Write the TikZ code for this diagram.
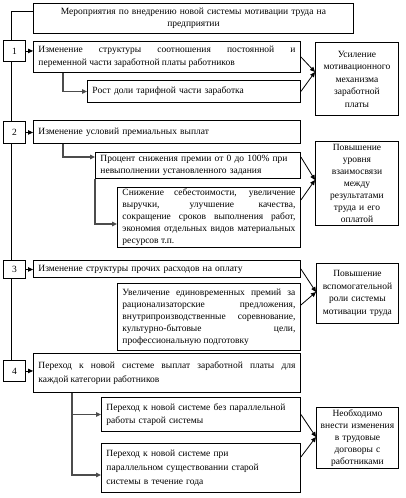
\documentclass[tikz,border=0pt]{standalone}
\usepackage{fontspec}
\setmainfont{Liberation Serif}
\usetikzlibrary{arrows.meta,calc}
\pgfdeclarelayer{background}
\pgfsetlayers{background,main}
\begin{document}
\begin{tikzpicture}[x=1pt,y=-1pt,
  every node/.style={font=\fontsize{9.5}{12.5}\selectfont},
  bx/.style={draw, fill=white, line width=0.9pt, anchor=north west, inner xsep=5pt, inner ysep=1pt},
  numbox/.style={draw, fill=white, line width=0.9pt, anchor=north west, minimum width=22pt, inner sep=0pt},
  rbox/.style={draw, fill=white, line width=0.9pt, anchor=north west, inner xsep=2pt, inner ysep=1pt, align=center},
  arr/.style={line width=0.8pt, -{Triangle[length=5pt,width=4.5pt]}},
  link/.style={line width=1.1pt, draw=black!70, -{Triangle[length=5pt,width=4.5pt]}},
  spine/.style={line width=0.9pt}
]
\useasboundingbox (0,0) rectangle (405,498);
% title and number boxes
\node[bx, text width=310pt, minimum height=30pt, align=center] (title) at (33,3)
  {Мероприятия по внедрению новой системы мотивации труда на\\предприятии};
\coordinate (lstart) at ($(title.north west)+(0,8)$);
\node[numbox, minimum height=21pt] (n1) at (3,40) {1};
\node[numbox, minimum height=22pt] (n2) at (3,121) {2};
\node[numbox, minimum height=18pt] (n3) at (3,260) {3};
\node[numbox, minimum height=21pt] (n4) at (3,360) {4};
% main boxes
\node[bx, text width=257pt, minimum height=31pt, align=justify] (a1) at (33,41)
  {Изменение структуры соотношения постоянной и\linebreak переменной части заработной платы работников};
\node[bx, text width=203pt, minimum height=22pt, align=left] (a1b) at (87,80)
  {Рост доли тарифной части заработка};
\node[bx, text width=257pt, minimum height=23pt, align=left] (a2) at (33,120)
  {Изменение условий премиальных выплат};
\node[bx, text width=195pt, minimum height=26pt, align=left] (a2b) at (95,152)
  {Процент снижения премии от 0 до 100\% при\\невыполнении установленного задания};
\node[bx, text width=173pt, minimum height=60pt, align=justify, font=\fontsize{9.5}{12}\selectfont] (a2c) at (117,187)
  {Снижение себестоимости, увеличение\linebreak выручки, улучшение качества,\linebreak сокращение сроков выполнения работ,\linebreak экономия отдельных видов материальных\linebreak ресурсов т.п.};
\node[bx, text width=257pt, minimum height=17pt, align=left] (a3) at (33,260)
  {Изменение структуры прочих расходов на оплату};
\node[bx, text width=173pt, minimum height=67pt, align=justify, font=\fontsize{9.5}{12}\selectfont] (a3b) at (117,283)
  {Увеличение единовременных премий за\linebreak рационализаторские предложения,\linebreak внутрипроизводственные соревнование,\linebreak культурно-бытовые цели,\linebreak профессиональную подготовку};
\node[bx, text width=257pt, minimum height=39pt, align=justify, font=\fontsize{9.5}{14}\selectfont] (a4) at (33,353)
  {Переход к новой системе выплат заработной платы для\linebreak каждой категории работников};
\node[bx, text width=189pt, minimum height=34pt, align=left, font=\fontsize{9.5}{13.5}\selectfont] (a4b) at (101,397)
  {Переход к новой системе без параллельной\\работы старой системы};
\node[bx, text width=189pt, minimum height=49pt, align=left, font=\fontsize{9.5}{14}\selectfont] (a4c) at (101,443)
  {Переход к новой системе при\\параллельном существовании старой\\системы в течение года};
% result boxes
\node[rbox, text width=79pt, minimum height=73pt] (r1) at (315,42)
  {Усиление\\мотивационного\\механизма\\заработной\\платы};
\node[rbox, text width=79pt, minimum height=84pt, font=\fontsize{9.5}{12}\selectfont] (r2) at (315,141)
  {Повышение\\уровня\\взаимосвязи\\между\\результатами\\труда и его\\оплатой};
\node[rbox, text width=78pt, minimum height=60pt] (r3) at (316,263)
  {Повышение\\вспомогательной\\роли системы\\мотивации труда};
\node[rbox, text width=78pt, minimum height=61pt, font=\fontsize{9.5}{12}\selectfont] (r4) at (316,407)
  {Необходимо\\внести изменения\\в трудовые\\договоры с\\работниками};
% left spine, behind the number boxes
\begin{pgfonlayer}{background}
\draw[spine] (lstart) -| ($(n4.north west)+(8,0)$);
\end{pgfonlayer}
% number arrows
\draw[arr] (n1.east) -- (n1.east -| a1.west);
\draw[arr] (n2.east) -- (n2.east -| a2.west);
\draw[arr] (n3.east) -- (n3.east -| a3.west);
\draw[arr] (n4.east) -- (n4.east -| a4.west);
% L connectors
\draw[link] ($(a1.south west)+(30,0)$) |- (a1b.west);
\draw[link] ($(a2.south west)+(30,0)$) |- ($(a2b.north west)+(0,5)$);
\draw[link] (a2b.south west) |- ($(a2c.north west)+(0,37)$);
\coordinate (a4s) at ($(a4.south west)+(39,0)$);
\draw[link] (a4s) |- (a4b.west);
\draw[link] (a4s) |- ($(a4c.north west)+(0,32)$);
% converging arrows
\coordinate (t1) at ($(r1.north west)+(0,30)$);
\draw[arr] (a1.east) -- (t1);
\draw[arr] (a1b.east) -- (t1);
\coordinate (t2) at ($(r2.north west)+(0,39)$);
\draw[arr] ($(a2b.north east)+(0,5)$) -- (t2);
\draw[arr] ($(a2c.north east)+(0,13)$) -- (t2);
\coordinate (t3) at ($(r3.north west)+(0,29)$);
\draw[arr] (a3.east) -- (t3);
\draw[arr] ($(a3b.north east)+(0,22)$) -- (t3);
\coordinate (t4) at ($(r4.north west)+(0,30)$);
\draw[arr] (a4b.east) -- (t4);
\draw[arr] ($(a4c.north east)+(0,14)$) -- (t4);
\end{tikzpicture}
\end{document}
